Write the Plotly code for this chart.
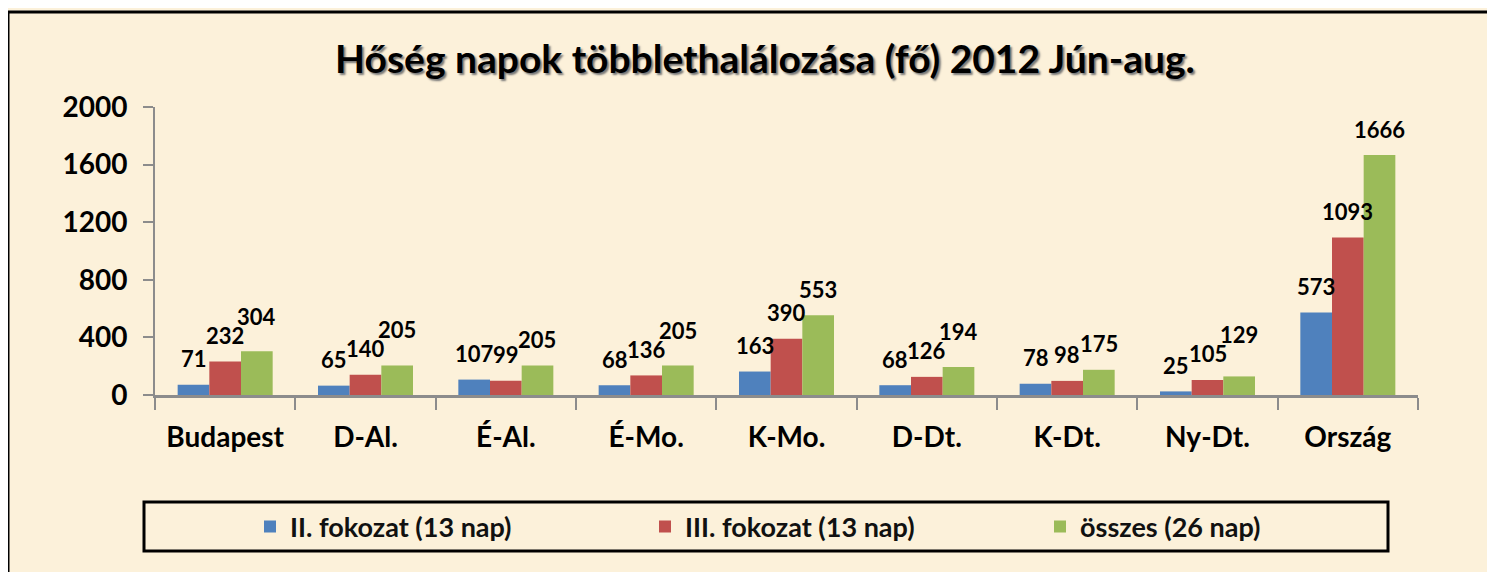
import plotly.graph_objects as go

categories = ["Budapest", "D-Al.", "É-Al.", "É-Mo.", "K-Mo.", "D-Dt.", "K-Dt.", "Ny-Dt.", "Ország"]
series_names = ["II. fokozat (13 nap)", "III. fokozat (13 nap)", "összes (26 nap)"]
fok2 = [71, 65, 107, 68, 163, 68, 78, 25, 573]
fok3 = [232, 140, 99, 136, 390, 126, 98, 105, 1093]
osszes = [304, 205, 205, 205, 553, 194, 175, 129, 1666]
colors = ["#4F81BD", "#C0504D", "#9BBB59"]
title_text = "Hőség napok többlethalálozása (fő) 2012 Jún-aug."

OFF = 8  # page body margin
W, H = 1495 - OFF, 572 - OFF
ML, MR, MT, MB = 155 - OFF, 77, 107 - OFF, 177
PW = W - ML - MR
PH = H - MT - MB
YMAX = 2000
BARGAP = 0.323
FONT = "Lato"
BG = "#FCF1DA"
LABEL_FS = 22
LABEL_GAP = 17      # px between bar top and label baseline
BOX_PAD = 6.5       # px between annotation box bottom and digit baseline


def px_x(px):
    return (px - OFF - ML) / PW


def px_y(py):
    return (H + OFF - MB - py) / PH


fig = go.Figure()
all_series = [fok2, fok3, osszes]
for name, vals, col in zip(series_names, all_series, colors):
    fig.add_trace(go.Bar(x=categories, y=vals, name=name, marker=dict(color=col, line=dict(width=0))))

# data labels with simple collision avoidance (raise a label above an earlier one it would overlap)
cat_w = PW / len(categories)
bar_w = cat_w * (1 - BARGAP) / 3
annotations = []
for ci, c in enumerate(categories):
    placed = []
    for i, vals in enumerate(all_series):
        v = vals[ci]
        txt = str(v)
        cx = (i - 1) * bar_w
        half_w = len(txt) * 0.58 * LABEL_FS / 2
        bar_top = v * PH / YMAX
        bottom = bar_top + LABEL_GAP
        height = 0.74 * LABEL_FS
        for (ocx, ohw, ob, oh) in placed:
            if abs(cx - ocx) < (half_w + ohw - 1) and bottom < ob + oh and bottom + height > ob:
                bottom = ob + oh + 3
        placed.append((cx, half_w, bottom, height))
        annotations.append(dict(
            x=c, y=v, xref="x", yref="y", text=txt, showarrow=False,
            xanchor="center", yanchor="bottom", xshift=cx, yshift=bottom - bar_top - BOX_PAD,
            font=dict(family=FONT, size=LABEL_FS, color="black", weight="bold"),
        ))

shapes = [
    # outer frame
    dict(type="rect", xref="paper", yref="paper", x0=px_x(8), x1=px_x(1540),
         y0=px_y(600), y1=px_y(12), line=dict(color="black", width=3), layer="below"),
    # legend frame
    dict(type="rect", xref="paper", yref="paper", x0=px_x(144), x1=px_x(1388),
         y0=px_y(551), y1=px_y(502), line=dict(color="black", width=3), layer="below"),
]

fig.update_layout(
    width=W, height=H,
    margin=dict(l=ML, r=MR, t=MT, b=MB, autoexpand=False),
    paper_bgcolor=BG, plot_bgcolor=BG,
    barmode="group", bargap=BARGAP, bargroupgap=0,
    title=dict(text=title_text, x=(765 - OFF) / W, xanchor="center", xref="container",
               y=1 - (59 - OFF) / H, yanchor="middle", yref="container",
               font=dict(family=FONT, size=39, color="black", weight="bold",
                         shadow="2px 2px 2px #777")),
    showlegend=True,
    legend=dict(orientation="h", x=px_x(250), xanchor="left", y=px_y(527), yanchor="middle",
                entrywidth=350, entrywidthmode="pixels", bgcolor="rgba(0,0,0,0)", borderwidth=0,
                font=dict(family=FONT, size=27, color="#111", weight="bold"), traceorder="normal"),
    annotations=annotations,
    shapes=shapes,
    xaxis=dict(type="category", showline=True, linecolor="#8C8C8C", linewidth=3,
               ticks="outside", tickson="boundaries", ticklen=12, tickcolor="#8C8C8C", tickwidth=2,
               tickfont=dict(family=FONT, size=28, color="black", weight="bold"),
               ticklabelstandoff=15, showgrid=False, zeroline=False),
    yaxis=dict(range=[0, YMAX], dtick=400, showline=True, linecolor="#8C8C8C", linewidth=2,
               ticks="outside", ticklen=10, tickcolor="#8C8C8C", tickwidth=2,
               tickfont=dict(family=FONT, size=28, color="black", weight="bold"),
               ticklabelstandoff=10, showgrid=False, zeroline=False),
)

fig.write_html("out.html")
